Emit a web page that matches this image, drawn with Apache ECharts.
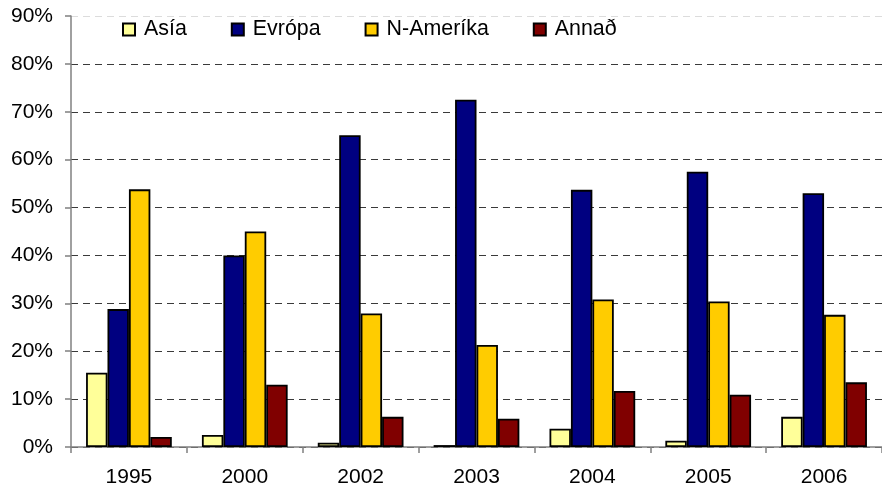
<!DOCTYPE html>
<html>
<head>
<meta charset="utf-8">
<script src="https://cdn.jsdelivr.net/npm/echarts@6/dist/echarts.min.js"></script>
<style>
html,body{margin:0;padding:0;background:#fff;}
#chart{width:882px;height:488px;}
</style>
</head>
<body>
<div id="chart"></div>
<script>
const categories = ['1995', '2000', '2002', '2003', '2004', '2005', '2006'];
const asia = [15.5, 2.5, 0.9, 0.4, 3.8, 1.3, 6.3];
const evropa = [28.8, 40.0, 65.1, 72.5, 53.7, 57.5, 53.0];
const namerika = [53.8, 45.0, 27.9, 21.3, 30.8, 30.4, 27.6];
const annad = [2.1, 13.0, 6.3, 5.9, 11.7, 10.9, 13.5];
const seriesNames = ['Asía', 'Evrópa', 'N-Ameríka', 'Annað'];
const seriesColors = ['#FFFF99', '#000080', '#FFCC00', '#800000'];
const seriesData = [asia, evropa, namerika, annad];

const FONT = '"Liberation Sans", Arial, sans-serif';
const chart = echarts.init(document.getElementById('chart'));
const splitColors = [];
for (let i = 0; i < 10; i++) splitColors.push(i === 9 ? '#dcdcdc' : '#3a3a3a');

chart.setOption({
  animation: false,
  backgroundColor: '#fff',
  textStyle: { fontFamily: FONT },
  legend: {
    left: 117,
    top: 14,
    icon: 'rect',
    itemWidth: 12,
    itemHeight: 12,
    itemGap: 44,
    textStyle: { fontSize: 21.4, color: '#000', fontFamily: FONT, padding: [0, 0, 0, 4] },
    data: seriesNames
  },
  grid: { left: 71, top: 16, width: 819, bottom: 40, containLabel: false },
  xAxis: {
    type: 'category',
    data: categories,
    axisLine: { lineStyle: { color: '#808080', width: 1.5 } },
    axisTick: { show: true, length: 6, lineStyle: { color: '#808080', width: 1.5 } },
    axisLabel: { fontSize: 21, color: '#000', margin: 20, fontFamily: FONT },
    splitLine: { show: false }
  },
  yAxis: {
    type: 'value',
    min: 0,
    max: 90,
    interval: 10,
    axisLine: { show: true, lineStyle: { color: '#808080', width: 1.5 } },
    axisTick: { show: true, length: 6, lineStyle: { color: '#808080', width: 1.5 } },
    axisLabel: { fontSize: 21, color: '#000', margin: 18, formatter: '{value}%', fontFamily: FONT },
    splitLine: { show: true, lineStyle: { color: splitColors, type: [7, 5], width: 1 } }
  },
  series: seriesNames.map((name, i) => ({
    name: name,
    type: 'bar',
    data: seriesData[i],
    barGap: '0%',
    barCategoryGap: '26%',
    itemStyle: { color: seriesColors[i], borderColor: '#000', borderWidth: 1.8 }
  }))
});
</script>
</body>
</html>
